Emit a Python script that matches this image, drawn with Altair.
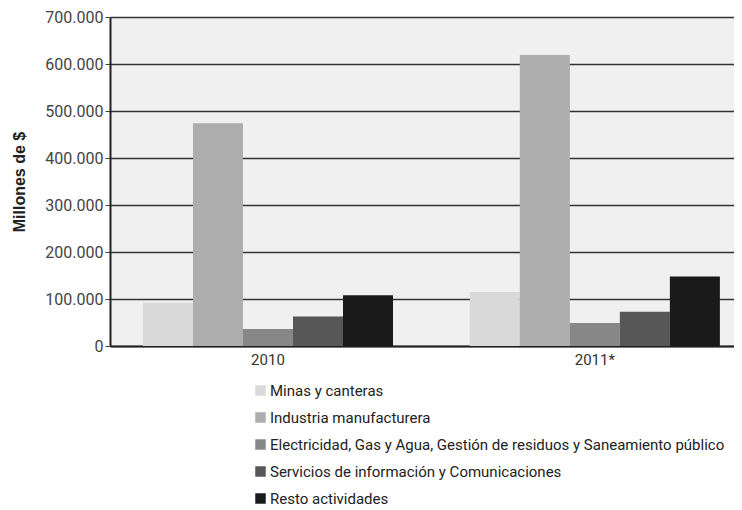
import altair as alt
import pandas as pd

years = ["2010", "2011*"]
sectors = [
    "Minas y canteras",
    "Industria manufacturera",
    "Electricidad, Gas y Agua, Gestión de residuos y Saneamiento público",
    "Servicios de información y Comunicaciones",
    "Resto actividades",
]
values_2010 = [92000, 474000, 36000, 63000, 108000]
values_2011 = [115000, 619000, 49000, 73000, 148000]
colors = ["#d9d9d9", "#adadad", "#878787", "#575757", "#1a1a1a"]
y_ticks = [0, 100000, 200000, 300000, 400000, 500000, 600000, 700000]

rows = []
for s, v in zip(sectors, values_2010):
    rows.append({"Año": years[0], "Sector": s, "Valor": v})
for s, v in zip(sectors, values_2011):
    rows.append({"Año": years[1], "Sector": s, "Valor": v})
df = pd.DataFrame(rows)

FONT = "Roboto"

chart = alt.Chart(df).mark_bar().encode(
    x=alt.X("Año:N", sort=years, title=None,
            scale=alt.Scale(paddingInner=0.235, paddingOuter=0.072, align=0.7),
            axis=alt.Axis(labelAngle=0, labelFontSize=15, labelColor="#333",
                          labelFont=FONT, ticks=False, domainColor="#222",
                          domainWidth=2, labelPadding=6)),
    xOffset=alt.XOffset("Sector:N", sort=sectors),
    y=alt.Y("Valor:Q", title="Millones de $",
            scale=alt.Scale(domain=[0, 700000], nice=False),
            axis=alt.Axis(values=y_ticks, format=",.0f", labelExpr="replace(datum.label, /,/g, '.')",
                          labelFontSize=16, labelFont=FONT, labelColor="#444",
                          titleFontSize=16, titleFont="Liberation Sans", titleFontWeight="bold",
                          titleColor="#222", titlePadding=17,
                          grid=True, gridColor="#333", gridWidth=1.5,
                          domainColor="#222", domainWidth=2, tickColor="#444", tickSize=5)),
    color=alt.Color("Sector:N", sort=sectors,
                    scale=alt.Scale(domain=sectors, range=colors),
                    legend=alt.Legend(title=None, orient="none", legendX=143, legendY=366,
                                      direction="vertical", symbolType="square",
                                      symbolSize=110, symbolStrokeWidth=0,
                                      labelFontSize=15, labelFont=FONT, labelColor="#222",
                                      rowPadding=11, labelLimit=600, labelOffset=2)),
).properties(
    width=624, height=329,
    autosize=alt.AutoSizeParams(type="none"),
    padding={"left": 102, "top": 9, "right": 0, "bottom": 164},
).configure_view(
    fill="#f0f0f0", stroke=None
)

chart.save("out.html", embed_options={"renderer": "svg", "actions": False})
